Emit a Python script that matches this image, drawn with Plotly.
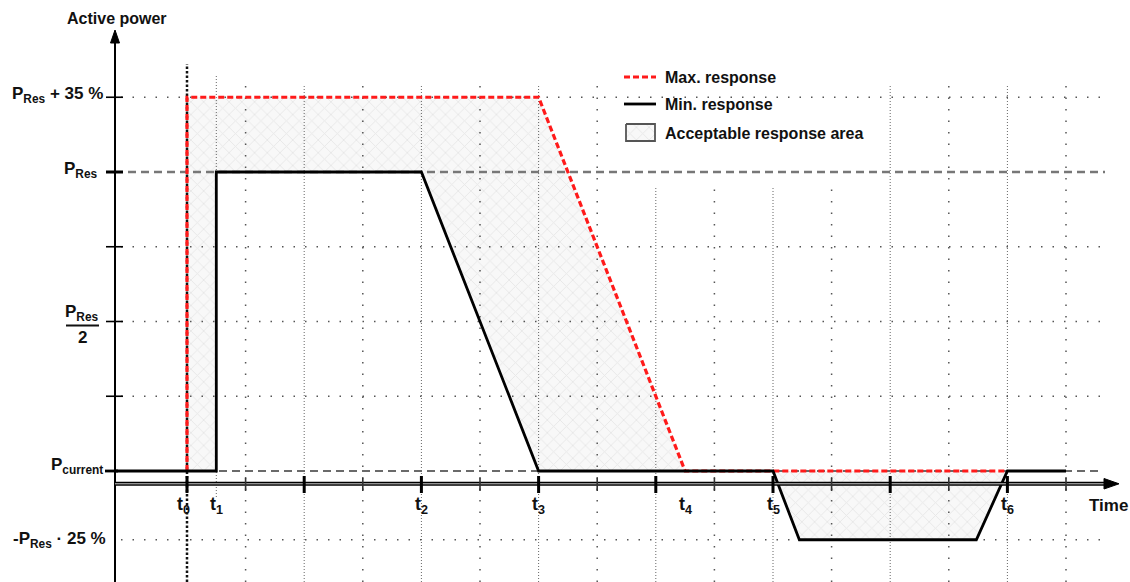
import plotly.graph_objects as go

# ---------------- data (time in grid steps, power in units of P_Res above P_current) ----------------
T_NAMES = ["t<sub>0</sub>", "t<sub>1</sub>", "t<sub>2</sub>", "t<sub>3</sub>", "t<sub>4</sub>", "t<sub>5</sub>", "t<sub>6</sub>"]
T_VALUES = [0, 0.5, 4, 6, 8.5, 10, 14]

GRID_X = list(range(1, 16))          # vertical grid / tick positions
BOLD_TICKS = [0, 2, 4, 6, 8, 10, 12, 14]
THIN_TICKS = [1, 3, 5, 7, 9, 11, 13, 15]

Y_NAMES = ["P<sub>Res</sub> + 35 %", "P<sub>Res</sub>", "", "P<sub>Res</sub>", "", "P<sub>current</sub>", "-P<sub>Res</sub> · 25 %"]
Y_VALUES = [1.25, 1.0, 0.75, 0.5, 0.25, 0.0, -0.23]
HALF_DENOM = "2"

MAX_X = [0, 0, 6, 8.5, 14]
MAX_Y = [0, 1.25, 1.25, 0, 0]

MIN_X = [-1.23, 0.5, 0.5, 4, 6, 10, 10.45, 13.47, 14, 15]
MIN_Y = [0, 0, 1, 1, 0, 0, -0.23, -0.23, 0, 0]

LEGEND_NAMES = ["Max. response", "Min. response", "Acceptable response area"]

# ---------------- pixel helpers (layout only) ----------------
W, H = 1130, 582
X0PX, XSTEP = 187.0, 58.6
Y0PX, YUNIT = 471.0, 299.0


def X(px):
    return (px - X0PX) / XSTEP


def Y(py):
    return (Y0PX - py) / YUNIT


FONT = "Liberation Sans, Arial, sans-serif"
fig = go.Figure()

# ---------------- acceptable response area ----------------
i3 = MIN_X.index(T_VALUES[3])
i1 = MIN_X.index(T_VALUES[1])
area1_x = MAX_X[:4] + MIN_X[i1:i3 + 1][::-1]
area1_y = MAX_Y[:4] + MIN_Y[i1:i3 + 1][::-1]
i5 = MIN_X.index(T_VALUES[5])
i6 = MIN_X.index(T_VALUES[6])
area2_x = MIN_X[i5:i6 + 1]
area2_y = MIN_Y[i5:i6 + 1]
pattern = dict(shape="x", fgcolor="#d4d4d4", bgcolor="#f8f8f8", size=9, solidity=0.18)
for ax_, ay_ in [(area1_x, area1_y), (area2_x, area2_y)]:
    fig.add_trace(go.Scatter(x=ax_ + [ax_[0]], y=ay_ + [ay_[0]], mode="lines", fill="toself",
                             fillpattern=pattern, fillcolor="#f8f8f8",
                             line=dict(width=0, color="rgba(0,0,0,0)"), hoverinfo="skip", showlegend=False))


def seg(x0, y0, x1, y1, color, width, dash="solid"):
    fig.add_trace(go.Scatter(x=[x0, x1], y=[y0, y1], mode="lines",
                             line=dict(color=color, width=width, dash=dash),
                             hoverinfo="skip", showlegend=False))


# ---------------- dotted grid ----------------
ybot = Y(H)
for gx in GRID_X:
    top = Y(187) if 8 <= gx <= 11 else Y(85)
    if gx in BOLD_TICKS:
        seg(gx, ybot, gx, top, "#666666", 1, "1px,2px")
    else:
        seg(gx, ybot, gx, top, "#555555", 1.5, "1.5px,10px")

for yv in Y_VALUES:
    if yv in (1.0, 0.0):
        continue
    seg(X(121), yv, X(1107), yv, "#555555", 1.5, "1.5px,10px")

# t1 dotted line
seg(T_VALUES[1], Y(497), T_VALUES[1], Y(75), "#666666", 1, "1px,2px")
# t0 bold dotted line
seg(T_VALUES[0], ybot, T_VALUES[0], Y(64), "#111111", 2.5, "2.5px,2px")

# ---------------- grey dashed reference levels ----------------
seg(X(128), Y_VALUES[1], X(1105), Y_VALUES[1], "#777777", 2.6, "8px,5px")
seg(X(128), Y_VALUES[5], X(1103), Y_VALUES[5], "#6a6a6a", 2, "8px,5px")

# ---------------- responses ----------------
fig.add_trace(go.Scatter(x=MAX_X, y=MAX_Y, mode="lines", line=dict(color="#ff1a1a", width=3.2, dash="6px,3px"),
                         hoverinfo="skip", showlegend=False))
fig.add_trace(go.Scatter(x=MIN_X, y=MIN_Y, mode="lines", line=dict(color="#000000", width=2.8),
                         hoverinfo="skip", showlegend=False))

# ---------------- axes ----------------
shapes = []
# y axis
shapes.append(dict(type="line", x0=X(115), x1=X(115), y0=Y(H), y1=Y(40), line=dict(color="black", width=2)))
shapes.append(dict(type="path", path=f"M {X(115)} {Y(30)} L {X(110.5)} {Y(43)} L {X(119.5)} {Y(43)} Z",
                   fillcolor="black", line=dict(color="black", width=1)))
# x axis (double line)
shapes.append(dict(type="line", x0=X(115), x1=X(1106), y0=Y(483.8), y1=Y(483.8), line=dict(color="black", width=4)))
shapes.append(dict(type="line", x0=X(115), x1=X(1106), y0=Y(483.8), y1=Y(483.8), line=dict(color="#d0d0d0", width=1)))
shapes.append(dict(type="path", path=f"M {X(1119)} {Y(483.8)} L {X(1104)} {Y(478.5)} L {X(1104)} {Y(489)} Z",
                   fillcolor="black", line=dict(color="black", width=1)))
# x ticks
for tx in BOLD_TICKS:
    shapes.append(dict(type="line", x0=tx, x1=tx, y0=Y(476), y1=Y(493), line=dict(color="black", width=3)))
for tx in THIN_TICKS:
    shapes.append(dict(type="line", x0=tx, x1=tx, y0=Y(478), y1=Y(491), line=dict(color="#333333", width=1.6)))
# y ticks
for yv in Y_VALUES[:5]:
    w = 3 if yv == 1.0 else 1.6
    shapes.append(dict(type="line", x0=X(106), x1=X(123), y0=yv, y1=yv, line=dict(color="black", width=w)))
shapes.append(dict(type="line", x0=X(105), x1=X(118), y0=0, y1=0, line=dict(color="black", width=2.8)))

# ---------------- annotations ----------------
ann = []
bold = dict(family=FONT, size=17, color="#111111", weight="bold")
tfont = dict(family=FONT, size=18, color="#111111", weight="bold")
ann.append(dict(x=X(117), y=Y(18), text="Active power", showarrow=False, xanchor="center", yanchor="middle",
                font=dict(family=FONT, size=16, color="#111111", weight="bold")))
ann.append(dict(x=X(1108), y=Y(505), text="Time", showarrow=False, xanchor="center", yanchor="middle", font=bold))

# y labels
for name, yv in zip(Y_NAMES, Y_VALUES):
    if not name:
        continue
    if yv == 0.5:
        ann.append(dict(x=X(82), y=yv, yshift=9, text=name, showarrow=False, xanchor="center", yanchor="middle", font=bold))
        ann.append(dict(x=X(82), y=yv, yshift=-16, text=HALF_DENOM, showarrow=False, xanchor="center", yanchor="middle", font=bold))
        shapes.append(dict(type="line", x0=X(66), x1=X(99), y0=yv - 4 / YUNIT, y1=yv - 4 / YUNIT,
                           line=dict(color="#111111", width=2)))
        continue
    right = {1.25: 105, 1.0: 100, 0.0: 105, -0.23: 108}[yv]
    shift = {1.25: 2, 1.0: 2, 0.0: 5, -0.23: 0}[yv]
    ann.append(dict(x=X(right), y=yv, yshift=shift, text=name, showarrow=False, xanchor="right", yanchor="middle", font=bold))

# t labels
for name, tv in zip(T_NAMES, T_VALUES):
    ann.append(dict(x=tv, y=Y(505), xshift=-4 if tv == 0 else 0, text=name, showarrow=False,
                    xanchor="center", yanchor="middle", font=tfont))

# ---------------- legend (manual) ----------------
leg_font = dict(family=FONT, size=16, color="#111111", weight="bold")
fig.add_trace(go.Scatter(x=[X(624), X(656)], y=[Y(77), Y(77)], mode="lines",
                         line=dict(color="#ff1a1a", width=3.2, dash="6px,3px"), hoverinfo="skip", showlegend=False))
fig.add_trace(go.Scatter(x=[X(624), X(656)], y=[Y(104), Y(104)], mode="lines",
                         line=dict(color="black", width=2.8), hoverinfo="skip", showlegend=False))
bx = [X(626), X(655), X(655), X(626), X(626)]
by = [Y(124), Y(124), Y(141), Y(141), Y(124)]
fig.add_trace(go.Scatter(x=bx, y=by, mode="lines", fill="toself", fillpattern=pattern, fillcolor="#f8f8f8",
                         line=dict(color="#555555", width=1.8), hoverinfo="skip", showlegend=False))
for name, py in zip(LEGEND_NAMES, [77, 104, 133]):
    ann.append(dict(x=X(663), y=Y(py), text=name, showarrow=False, xanchor="left", yanchor="middle", font=leg_font))

fig.update_layout(
    width=W, height=H, margin=dict(l=0, r=0, t=0, b=0),
    paper_bgcolor="white", plot_bgcolor="white",
    xaxis=dict(range=[X(0), X(W)], visible=False, fixedrange=True),
    yaxis=dict(range=[Y(H), Y(0)], visible=False, fixedrange=True),
    shapes=shapes, annotations=ann, showlegend=False,
)
fig.write_html("out.html", config={"displayModeBar": False},
               post_script="document.body.style.margin='0';document.body.style.overflow='hidden';")
